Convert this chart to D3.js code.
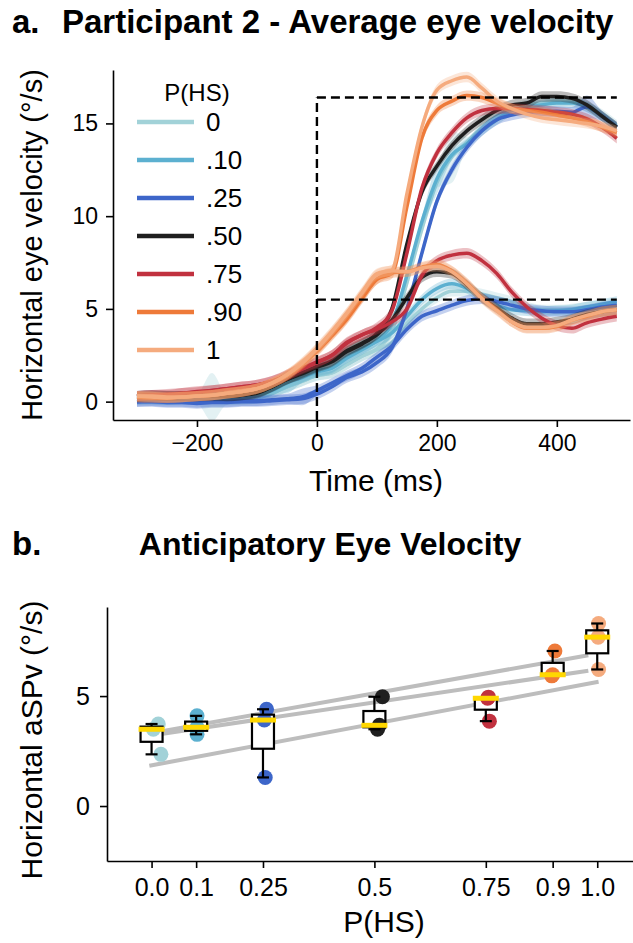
<!DOCTYPE html>
<html>
<head>
<meta charset="utf-8">
<script src="https://cdn.jsdelivr.net/npm/d3@7"></script>
<style>
  body { margin: 0; background: #fff; }
  svg { display: block; }
  text { font-family: "Liberation Sans", Arial, Helvetica, sans-serif; fill: #000; }
</style>
</head>
<body>
<svg id="fig" width="633" height="943"></svg>
<script>
// ---------- Panel a: average eye velocity traces ----------
const conditionLabels = ["0", ".10", ".25", ".50", ".75", ".90", "1"];
const conditionColors = ["#a2d2d8", "#5cb0d0", "#3d66c9", "#1f1f1f", "#c1313f", "#ee7a39", "#f5ab7e"];

const timeMs = [-300,-275,-250,-225,-200,-175,-150,-125,-100,-75,-50,-25,0,25,50,75,100,125,150,175,200,225,250,275,300,325,350,375,400,425,450,475,500];

// high-speed (HS) and low-speed (LS) trial averages, deg/s
const hs0   = [0.10,0.15,0.10,0.10,0.15,0.25,0.10,0.10,0.20,0.45,0.80,1.10,1.40,1.55,2.00,2.45,2.85,3.80, 6.4,9.3,11.8,13.2,14.0,14.8,15.4,15.8,16.0,16.1,16.2,16.2,15.9,15.5,14.9];
const ls0   = [0.10,0.10,0.10,0.15,0.15,0.20,0.10,0.15,0.20,0.45,0.80,1.10,1.40,1.55,2.00,2.45,2.80,3.20, 4.2,5.0,5.6,5.95,5.95,5.8,5.6,5.4,5.1,4.95,4.95,5.0,5.1,5.2,5.3];
const hs10  = [0.15,0.15,0.10,0.15,0.20,0.20,0.15,0.20,0.35,0.60,1.00,1.30,1.60,1.80,2.35,2.80,3.30,4.20, 6.8,9.7,12.0,13.3,13.9,14.6,15.2,15.7,15.9,16.0,16.1,16.1,15.9,15.4,14.8];
const ls10  = [0.15,0.20,0.15,0.15,0.20,0.25,0.20,0.20,0.35,0.65,1.05,1.30,1.65,1.85,2.40,2.85,3.25,3.70, 4.6,5.5,6.1,6.35,6.1,5.6,5.2,4.95,4.9,4.85,4.9,4.95,5.1,5.25,5.4];
const hs25  = [0.0,0.0,-0.05,-0.05,-0.1,-0.05,-0.05,0.0,0.0,0.05,0.1,0.15,0.4,0.8,1.3,1.6,2.1,2.9, 5.0,8.0,10.8,12.5,13.7,14.6,15.2,15.45,15.6,15.65,15.65,15.6,15.9,15.4,14.8];
const ls25  = [0.0,0.05,0.0,0.0,-0.05,0.0,0.0,0.05,0.05,0.1,0.15,0.25,0.6,1.0,1.4,1.8,2.4,3.0, 3.9,4.6,4.9,5.2,5.45,5.55,5.4,5.2,5.0,4.9,4.85,4.85,4.95,5.1,5.2];
const hs50  = [0.25,0.3,0.3,0.3,0.3,0.3,0.3,0.35,0.45,0.8,1.2,1.5,1.85,2.15,2.7,3.1,3.7,5.0, 8.5,11.3,12.7,13.8,14.6,15.2,15.7,16.0,16.1,16.45,16.45,16.35,16.0,15.4,14.8];
const ls50  = [0.3,0.35,0.3,0.3,0.3,0.35,0.3,0.35,0.5,0.8,1.2,1.55,1.9,2.2,2.75,3.15,3.6,4.4, 5.6,6.7,7.0,6.9,6.3,5.6,5.05,4.5,4.2,4.2,4.3,4.45,4.7,4.85,4.95];
const hs75  = [0.3,0.35,0.35,0.45,0.55,0.6,0.7,0.8,0.9,1.1,1.45,1.8,2.15,2.5,3.2,3.6,4.0,4.9, 8.0,11.5,13.4,14.5,15.3,15.7,15.8,15.8,15.75,15.7,15.6,15.5,15.25,14.8,14.2];
const ls75  = [0.3,0.35,0.4,0.45,0.5,0.6,0.7,0.8,0.9,1.1,1.4,1.75,2.1,2.5,3.15,3.6,3.9,4.3, 5.0,6.8,7.6,7.9,8.0,7.6,6.9,5.9,5.1,4.5,4.1,3.95,4.25,4.45,4.6];
const hs90  = [0.25,0.2,0.2,0.25,0.3,0.35,0.45,0.55,0.7,1.0,1.4,2.0,2.75,3.6,4.5,5.6,6.6,6.9, 10.5,14.2,15.7,16.2,16.5,16.4,16.1,15.8,15.7,15.6,15.45,15.3,15.1,14.8,14.5];
const ls90  = [0.25,0.25,0.2,0.25,0.3,0.35,0.45,0.55,0.7,1.0,1.4,2.0,2.7,3.55,4.45,5.55,6.6,6.95, 7.0,7.25,7.4,7.05,6.4,5.6,4.95,4.3,3.95,3.95,4.05,4.4,4.6,4.85,4.95];
const hs100 = [0.3,0.25,0.2,0.25,0.3,0.35,0.45,0.55,0.7,1.0,1.45,2.1,2.9,3.8,4.8,5.9,6.9,7.1, 11.2,14.8,16.8,17.3,17.5,16.9,16.2,15.8,15.5,15.3,15.2,15.1,15.0,14.85,14.6];
const ls100 = [0.3,0.3,0.25,0.25,0.3,0.35,0.45,0.55,0.7,1.0,1.45,2.05,2.85,3.75,4.75,5.85,6.85,7.05, 7.0,7.2,7.3,7.0,6.35,5.55,4.9,4.3,4.0,4.0,4.1,4.4,4.65,4.85,4.95];

const hsSeries = [hs0, hs10, hs25, hs50, hs75, hs90, hs100];
const lsSeries = [ls0, ls10, ls25, ls50, ls75, ls90, ls100];

// confidence-band half width (deg/s), with a few wider spots
const ciDefault = 0.28;
const ciWide = [
  { cond: 0, kind: "HS", t: -175, hw: 1.3 },
  { cond: 0, kind: "HS", t: 225, hw: 1.4 },
  { cond: 1, kind: "LS", t: -50, hw: 0.6 },
  { cond: 1, kind: "HS", t: 200, hw: 0.8 },
  { cond: 2, kind: "LS", t: -25, hw: 0.45 },
  { cond: 2, kind: "HS", t: 450, hw: 0.6 }
];

// target velocities (deg/s)
const targetHS = 16.4;
const targetLS = 5.5;
const targetOnset = 0;
const targetEnd = 500;

const timeTicks = [-200, 0, 200, 400];
const velTicks = [0, 5, 10, 15];

// ---------- Panel b: anticipatory velocity ----------
const probValues = [0, 0.1, 0.25, 0.5, 0.75, 0.9, 1.0];
const probTickLabels = ["0.0", "0.1", "0.25", "0.5", "0.75", "0.9", "1.0"];
const aspvValues = [
  [3.49, 3.73, 2.35],
  [3.58, 4.10, 3.26],
  [3.91, 4.40, 1.30],
  [3.67, 4.97, 3.49],
  [4.90, 4.95, 3.86],
  [5.97, 7.05, 5.92],
  [7.68, 8.30, 6.21]
];
const aspvJitter = [
  [0.004, 0.015, 0.021],
  [0.002, 0.002, 0.002],
  [0.003, 0.008, 0.005],
  [0.011, 0.018, 0.007],
  [0.004, 0.006, 0.008],
  [0.000, 0.005, -0.002],
  [0.002, 0.003, 0.003]
];
// linear fits: start/end probability and fitted velocity
const fitP0 = [-0.005, -0.005, -0.005];
const fitP1 = [0.98, 0.98, 1.003];
const fitV0 = [3.30, 3.20, 1.83];
const fitV1 = [6.86, 6.15, 5.65];
const aspvTicks = [0, 5];

// ---------- drawing ----------
const svg = d3.select("#fig");

// ===== panel a =====
const xT = d3.scaleLinear().domain([-340, 522]).range([113, 630]);
const yT = d3.scaleLinear().domain([-0.99, 17.88]).range([420, 70]);

svg.append("text").attr("x", 12).attr("y", 33)
  .style("font-size", "33px").style("font-weight", "bold").text("a.");
svg.append("text").attr("x", 62).attr("y", 33)
  .style("font-size", "33px").style("font-weight", "bold")
  .text("Participant 2 - Average eye velocity");

const gA = svg.append("g");

function hwFor(cond, kind) {
  return timeMs.map(t => {
    const w = ciWide.find(c => c.cond === cond && c.kind === kind && c.t === t);
    return w ? w.hw : ciDefault;
  });
}

const lineGen = d3.line().x(d => xT(d[0])).y(d => yT(d[1])).curve(d3.curveMonotoneX);
const areaGen = d3.area().x(d => xT(d[0])).y0(d => yT(d[1] - d[2])).y1(d => yT(d[1] + d[2])).curve(d3.curveMonotoneX);

conditionLabels.forEach((lab, i) => {
  const col = conditionColors[i];
  [["LS", lsSeries[i]], ["HS", hsSeries[i]]].forEach(([kind, vals]) => {
    const hw = hwFor(i, kind);
    const pts = timeMs.map((t, k) => [t, vals[k], hw[k]]);
    gA.append("path").attr("d", areaGen(pts))
      .attr("fill", col).attr("fill-opacity", 0.3).attr("stroke", "none");
  });
  [["LS", lsSeries[i]], ["HS", hsSeries[i]]].forEach(([kind, vals]) => {
    const pts = timeMs.map((t, k) => [t, vals[k]]);
    gA.append("path").attr("d", lineGen(pts))
      .attr("fill", "none").attr("stroke", col).attr("stroke-width", 3.5)
      .attr("stroke-linejoin", "round");
  });
});

// target velocity steps
const dash = "9,5";
gA.append("line").attr("x1", xT(targetOnset)).attr("x2", xT(targetOnset))
  .attr("y1", yT(-0.99)).attr("y2", yT(targetHS))
  .attr("stroke", "#000").attr("stroke-width", 2.4).attr("stroke-dasharray", dash);
[targetHS, targetLS].forEach(v => {
  gA.append("line").attr("x1", xT(targetOnset)).attr("x2", xT(targetEnd))
    .attr("y1", yT(v)).attr("y2", yT(v))
    .attr("stroke", "#000").attr("stroke-width", 2.4).attr("stroke-dasharray", dash);
});

function styleAxis(g, fs) {
  g.select(".domain").attr("stroke", "#000").attr("stroke-width", 1.6);
  g.selectAll(".tick line").attr("stroke", "#000").attr("stroke-width", 1.6);
  g.selectAll(".tick text").style("font-size", fs).attr("fill", "#000")
    .style("font-family", '"Liberation Sans", Arial, sans-serif');
}

const axXT = svg.append("g").attr("transform", "translate(0,420)")
  .call(d3.axisBottom(xT).tickValues(timeTicks).tickSize(7).tickSizeOuter(0).tickPadding(8));
styleAxis(axXT, "23px");
const axYT = svg.append("g").attr("transform", "translate(113,0)")
  .call(d3.axisLeft(yT).tickValues(velTicks).tickSize(7).tickSizeOuter(0).tickPadding(8));
styleAxis(axYT, "23px");

svg.append("text").attr("x", 376).attr("y", 491).attr("text-anchor", "middle")
  .style("font-size", "30px").text("Time (ms)");
svg.append("text").attr("transform", "translate(42,245) rotate(-90)")
  .attr("text-anchor", "middle").style("font-size", "29px")
  .text("Horizontal eye velocity (°/s)");

// legend
const leg = svg.append("g");
leg.append("text").attr("x", 197).attr("y", 101).attr("text-anchor", "middle")
  .style("font-size", "24px").text("P(HS)");
conditionLabels.forEach((lab, i) => {
  const y = 122 + i * 38;
  leg.append("line").attr("x1", 137).attr("x2", 194).attr("y1", y).attr("y2", y)
    .attr("stroke", conditionColors[i]).attr("stroke-width", 4.5);
  leg.append("text").attr("x", 206).attr("y", y).attr("dy", "0.36em")
    .style("font-size", "26px").text(lab);
});

// ===== panel b =====
const xB = d3.scaleLinear().domain([-0.1, 1.1]).range([107, 641.8]);
const yB = d3.scaleLinear().domain([-2.5, 9.05]).range([861, 607]);

svg.append("text").attr("x", 12).attr("y", 555)
  .style("font-size", "33px").style("font-weight", "bold").text("b.");
svg.append("text").attr("x", 330).attr("y", 555).attr("text-anchor", "middle")
  .style("font-size", "32px").style("font-weight", "bold").text("Anticipatory Eye Velocity");

const gB = svg.append("g");

// regression lines
fitP0.forEach((p0, i) => {
  gB.append("line")
    .attr("x1", xB(p0)).attr("y1", yB(fitV0[i]))
    .attr("x2", xB(fitP1[i])).attr("y2", yB(fitV1[i]))
    .attr("stroke", "#bdbdbd").attr("stroke-width", 4);
});

const boxW = 22, capW = 12, medW = 26;
const stats = aspvValues.map(vals => {
  const s = vals.slice().sort(d3.ascending);
  const q1 = d3.quantile(s, 0.25), med = d3.quantile(s, 0.5), q3 = d3.quantile(s, 0.75);
  const iqr = q3 - q1;
  const lo = d3.min(s.filter(v => v >= q1 - 1.5 * iqr));
  const hi = d3.max(s.filter(v => v <= q3 + 1.5 * iqr));
  return { q1, med, q3, lo, hi };
});

// box fills
stats.forEach((st, i) => {
  const cx = xB(probValues[i]);
  gB.append("rect").attr("x", cx - boxW / 2).attr("y", yB(st.q3))
    .attr("width", boxW).attr("height", yB(st.q1) - yB(st.q3))
    .attr("fill", "#fff");
});

// individual points
aspvValues.forEach((vals, i) => {
  vals.forEach((v, k) => {
    gB.append("circle")
      .attr("cx", xB(probValues[i] + aspvJitter[i][k]))
      .attr("cy", yB(v)).attr("r", 7.5)
      .attr("fill", conditionColors[i]);
  });
});

// box outlines, whiskers, medians
stats.forEach((st, i) => {
  const cx = xB(probValues[i]);
  const g = gB.append("g").attr("stroke", "#000").attr("stroke-width", 2.2).attr("fill", "none");
  g.append("rect").attr("x", cx - boxW / 2).attr("y", yB(st.q3))
    .attr("width", boxW).attr("height", Math.max(0.1, yB(st.q1) - yB(st.q3)));
  g.append("line").attr("x1", cx).attr("x2", cx).attr("y1", yB(st.q3)).attr("y2", yB(st.hi));
  g.append("line").attr("x1", cx).attr("x2", cx).attr("y1", yB(st.q1)).attr("y2", yB(st.lo));
  g.append("line").attr("x1", cx - capW / 2).attr("x2", cx + capW / 2).attr("y1", yB(st.hi)).attr("y2", yB(st.hi));
  g.append("line").attr("x1", cx - capW / 2).attr("x2", cx + capW / 2).attr("y1", yB(st.lo)).attr("y2", yB(st.lo));
  gB.append("line").attr("x1", cx - medW / 2).attr("x2", cx + medW / 2)
    .attr("y1", yB(st.med)).attr("y2", yB(st.med))
    .attr("stroke", "#ffd700").attr("stroke-width", 5);
});

const axXB = svg.append("g").attr("transform", "translate(0,861)")
  .call(d3.axisBottom(xB).tickValues(probValues)
    .tickFormat((d, i) => probTickLabels[i]).tickSize(7).tickSizeOuter(0).tickPadding(10));
styleAxis(axXB, "25px");
const axYB = svg.append("g").attr("transform", "translate(107,0)")
  .call(d3.axisLeft(yB).tickValues(aspvTicks).tickSize(7).tickSizeOuter(0).tickPadding(10));
styleAxis(axYB, "25px");

svg.append("text").attr("x", 384).attr("y", 932).attr("text-anchor", "middle")
  .style("font-size", "30px").text("P(HS)");
svg.append("text").attr("transform", "translate(42,740) rotate(-90)")
  .attr("text-anchor", "middle").style("font-size", "30px")
  .text("Horizontal aSPv (°/s)");
</script>
</body>
</html>
